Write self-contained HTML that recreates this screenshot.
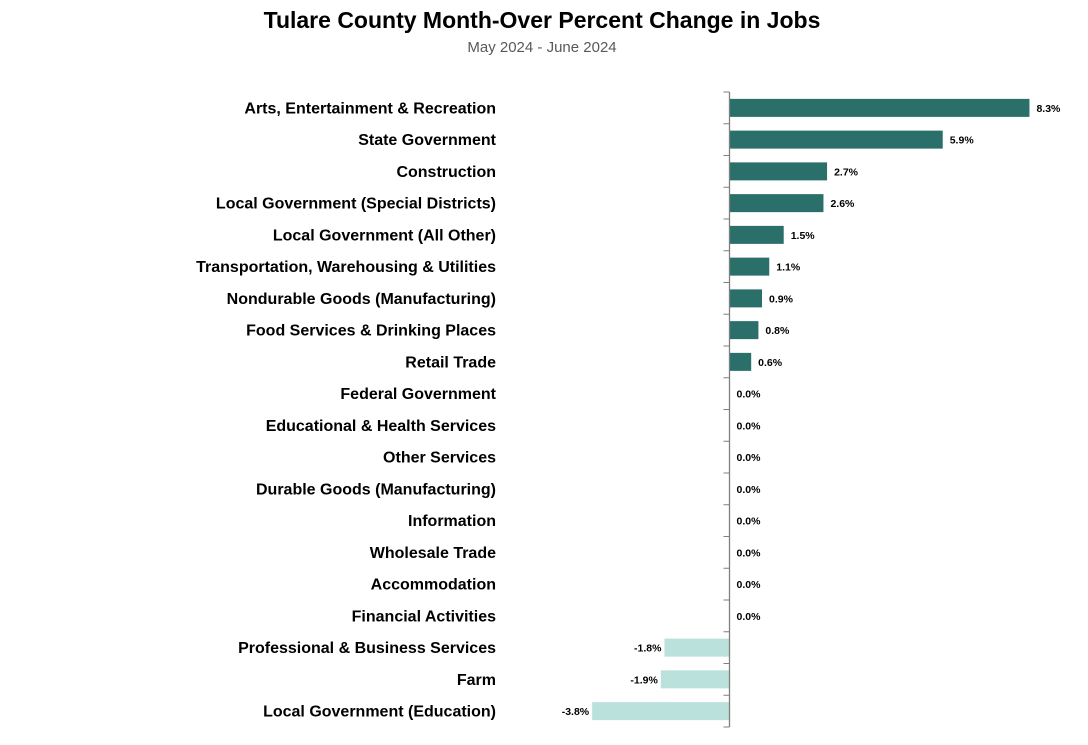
<!DOCTYPE html>
<html><head><meta charset="utf-8"><style>
body{margin:0;background:#fff;font-family:"Liberation Sans",sans-serif}
</style></head><body>
<svg width="1088" height="740" id="c" xmlns="http://www.w3.org/2000/svg">
<text x="542" y="28" text-anchor="middle" font-size="23" font-weight="bold" fill="#000">Tulare County Month-Over Percent Change in Jobs</text>
<text x="542" y="52" text-anchor="middle" font-size="15" fill="#595959">May 2024 - June 2024</text>
</svg>
<script>
const categories=["Arts, Entertainment & Recreation","State Government","Construction","Local Government (Special Districts)","Local Government (All Other)","Transportation, Warehousing & Utilities","Nondurable Goods (Manufacturing)","Food Services & Drinking Places","Retail Trade","Federal Government","Educational & Health Services","Other Services","Durable Goods (Manufacturing)","Information","Wholesale Trade","Accommodation","Financial Activities","Professional & Business Services","Farm","Local Government (Education)"];
const values=[8.3,5.9,2.7,2.6,1.5,1.1,0.9,0.8,0.6,0,0,0,0,0,0,0,0,-1.8,-1.9,-3.8];
const svgEl=document.getElementById('c');const NS="http://www.w3.org/2000/svg";
const x0=729.5,xScale=36.14,topY=92,band=31.75;
const xs=v=>x0+v*xScale;
function mk(t,a,txt){const e=document.createElementNS(NS,t);for(const k in a)e.setAttribute(k,a[k]);if(txt!==undefined)e.textContent=txt;svgEl.appendChild(e);return e;}
categories.forEach((c,i)=>{
 const cy=topY+band*(i+0.5);const v=values[i];
 const l=mk('text',{x:496,y:cy+5.5,'text-anchor':'end','font-size':16,'font-weight':'bold',fill:'#000'},c);
 
 
 if(v!==0){
  const r=mk('rect',{x:Math.min(xs(v),xs(0)),y:cy-9,width:Math.abs(xs(v)-xs(0)),height:18,fill:v>0?'#2a6f6a':'#bbe1dc'});
  
  
 }
 const lbl=v.toFixed(1)+'%';
 const t=mk('text',{x:v<0?xs(v)-3:xs(v)+7,y:cy+4,'text-anchor':v<0?'end':'start','font-size':10.5,'font-weight':'bold',fill:'#000'},lbl);
 
 
});
for(let i=0;i<=categories.length;i++){
 const y=topY+band*i;
 const tk=mk('line',{x1:x0-6,x2:x0,y1:y,y2:y,stroke:'#7f7f7f','stroke-width':1});
 
 
}
const ax=mk('line',{x1:x0,x2:x0,y1:topY,y2:topY+band*categories.length,stroke:'#7f7f7f','stroke-width':1.3});


</script>
</body></html>
